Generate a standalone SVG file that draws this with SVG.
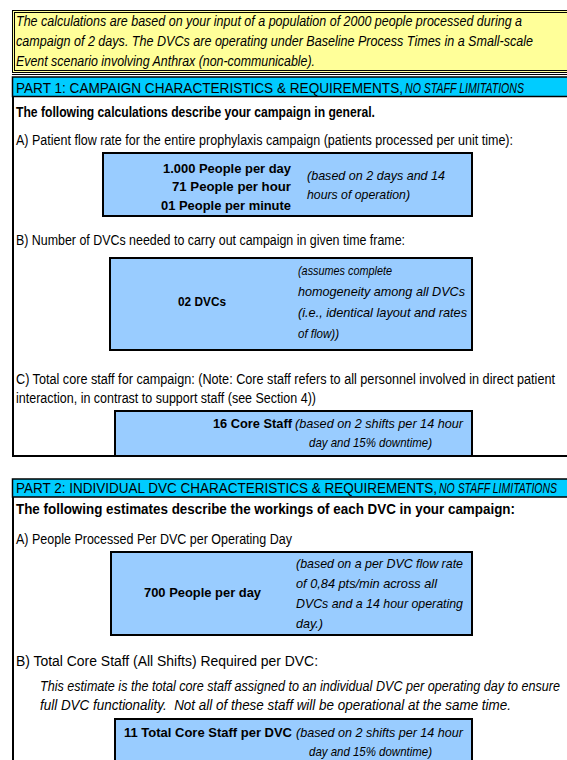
<svg xmlns="http://www.w3.org/2000/svg" width="567" height="760" viewBox="0 0 567 760">
<style>
text{font-family:"Liberation Sans",Arial,sans-serif;fill:#000}
.r{font-size:14px}
.i{font-size:14px;font-style:italic}
.h{font-size:14px}
.b{font-size:14px;font-weight:bold}
.bb{font-size:13px;font-weight:bold}
.n{font-size:13px;font-style:italic}
.box{fill:#99CCFF;stroke:#000;stroke-width:2}
.cy{fill:#00CCFF;stroke:#000;stroke-width:1.5}
.fr{stroke:#000;stroke-width:2;fill:none}
</style>
<rect width="567" height="760" fill="#fff"/>
<g id="intro">
<rect x="12.5" y="10.5" width="560" height="62" fill="#FFFF99" stroke="#000" stroke-width="1"/>
<rect x="14.5" y="12.5" width="560" height="58" fill="none" stroke="#000" stroke-width="1"/>
<line x1="12" y1="74.5" x2="567" y2="74.5" stroke="#000" stroke-width="1"/>
<text class="i" x="16" y="26" textLength="506" lengthAdjust="spacingAndGlyphs">The calculations are based on your input of a population of 2000 people processed during a</text>
<text class="i" x="16" y="46" textLength="517" lengthAdjust="spacingAndGlyphs">campaign of 2 days. The DVCs are operating under Baseline Process Times in a Small-scale</text>
<text class="i" x="16" y="66" textLength="299" lengthAdjust="spacingAndGlyphs">Event scenario involving Anthrax (non-communicable).</text>
</g>
<g id="part1">
<rect class="cy" x="12.5" y="77" width="560" height="19.5"/>
<text class="h" x="16" y="93" textLength="387" lengthAdjust="spacingAndGlyphs">PART 1: CAMPAIGN CHARACTERISTICS &amp; REQUIREMENTS,</text>
<text class="h" x="405" y="93" font-style="italic" textLength="119" lengthAdjust="spacingAndGlyphs">NO STAFF LIMITATIONS</text>
<path class="fr" d="M13 96 V456 H567"/>
<text class="b" x="16" y="117" textLength="359" lengthAdjust="spacingAndGlyphs">The following calculations describe your campaign in general.</text>
<text class="r" x="16" y="145" textLength="497" lengthAdjust="spacingAndGlyphs">A) Patient flow rate for the entire prophylaxis campaign (patients processed per unit time):</text>
</g>
<g id="box-1a">
<rect class="box" x="103" y="153" width="369" height="63"/>
<text class="bb" x="291" y="173" text-anchor="end" textLength="128" lengthAdjust="spacingAndGlyphs">1.000 People per day</text>
<text class="bb" x="291" y="191" text-anchor="end" textLength="119" lengthAdjust="spacingAndGlyphs">71 People per hour</text>
<text class="bb" x="291" y="210" text-anchor="end" textLength="130" lengthAdjust="spacingAndGlyphs">01 People per minute</text>
<text class="n" x="307" y="180" textLength="138" lengthAdjust="spacingAndGlyphs">(based on 2 days and 14</text>
<text class="n" x="307" y="199" textLength="103" lengthAdjust="spacingAndGlyphs">hours of operation)</text>
</g>
<text class="r" x="16" y="245" textLength="389" lengthAdjust="spacingAndGlyphs">B) Number of DVCs needed to carry out campaign in given time frame:</text>
<g id="box-1b">
<rect class="box" x="110" y="258" width="362" height="92"/>
<text class="bb" x="178" y="306" textLength="48" lengthAdjust="spacingAndGlyphs">02 DVCs</text>
<text class="n" x="298" y="275" textLength="94" lengthAdjust="spacingAndGlyphs">(assumes complete</text>
<text class="n" x="298" y="296" textLength="167" lengthAdjust="spacingAndGlyphs">homogeneity among all DVCs</text>
<text class="n" x="298" y="317" textLength="169" lengthAdjust="spacingAndGlyphs">(i.e., identical layout and rates</text>
<text class="n" x="298" y="338" textLength="41" lengthAdjust="spacingAndGlyphs">of flow))</text>
</g>
<text class="r" x="16" y="384" textLength="539" lengthAdjust="spacingAndGlyphs">C) Total core staff for campaign: (Note: Core staff refers to all personnel involved in direct patient</text>
<text class="r" x="16" y="403" textLength="300" lengthAdjust="spacingAndGlyphs">interaction, in contrast to support staff (see Section 4))</text>
<g id="box-1c">
<rect class="box" x="115" y="411" width="357" height="45"/>
<text class="bb" x="292" y="428" text-anchor="end" textLength="79" lengthAdjust="spacingAndGlyphs">16 Core Staff</text>
<text class="n" x="295" y="428" textLength="168" lengthAdjust="spacingAndGlyphs">(based on 2 shifts per 14 hour</text>
<text class="n" x="309" y="447" textLength="123" lengthAdjust="spacingAndGlyphs">day and 15% downtime)</text>
</g>
<line class="fr" x1="13" y1="456" x2="567" y2="456"/>
<g id="part2">
<rect class="cy" x="12.5" y="479" width="560" height="18"/>
<text class="h" x="16" y="493" textLength="421" lengthAdjust="spacingAndGlyphs">PART 2: INDIVIDUAL DVC CHARACTERISTICS &amp; REQUIREMENTS,</text>
<text class="h" x="439" y="493" font-style="italic" textLength="118" lengthAdjust="spacingAndGlyphs">NO STAFF LIMITATIONS</text>
<path class="fr" d="M13 497 V760"/>
<text class="b" x="16" y="514" textLength="499" lengthAdjust="spacingAndGlyphs">The following estimates describe the workings of each DVC in your campaign:</text>
<text class="r" x="16" y="544" textLength="276" lengthAdjust="spacingAndGlyphs">A) People Processed Per DVC per Operating Day</text>
</g>
<g id="box-2a">
<rect class="box" x="111" y="552" width="361" height="83"/>
<text class="bb" x="144" y="597" textLength="117" lengthAdjust="spacingAndGlyphs">700 People per day</text>
<text class="n" x="296" y="568" textLength="167" lengthAdjust="spacingAndGlyphs">(based on a per DVC flow rate</text>
<text class="n" x="296" y="588" textLength="141" lengthAdjust="spacingAndGlyphs">of 0,84 pts/min across all</text>
<text class="n" x="296" y="608" textLength="167" lengthAdjust="spacingAndGlyphs">DVCs and a 14 hour operating</text>
<text class="n" x="296" y="628" textLength="27" lengthAdjust="spacingAndGlyphs">day.)</text>
</g>
<text class="r" x="16" y="666" textLength="302" lengthAdjust="spacingAndGlyphs">B) Total Core Staff (All Shifts) Required per DVC:</text>
<text class="i" x="40" y="691" textLength="520" lengthAdjust="spacingAndGlyphs">This estimate is the total core staff assigned to an individual DVC per operating day to ensure</text>
<text class="i" x="40" y="710" textLength="471" lengthAdjust="spacingAndGlyphs" xml:space="preserve">full DVC functionality.  Not all of these staff will be operational at the same time.</text>
<g id="box-2b">
<rect class="box" x="115" y="719" width="357" height="50"/>
<text class="bb" x="292" y="737" text-anchor="end" textLength="168" lengthAdjust="spacingAndGlyphs">11 Total Core Staff per DVC</text>
<text class="n" x="296" y="737" textLength="167" lengthAdjust="spacingAndGlyphs">(based on 2 shifts per 14 hour</text>
<text class="n" x="309" y="756" textLength="123" lengthAdjust="spacingAndGlyphs">day and 15% downtime)</text>
</g>
</svg>
